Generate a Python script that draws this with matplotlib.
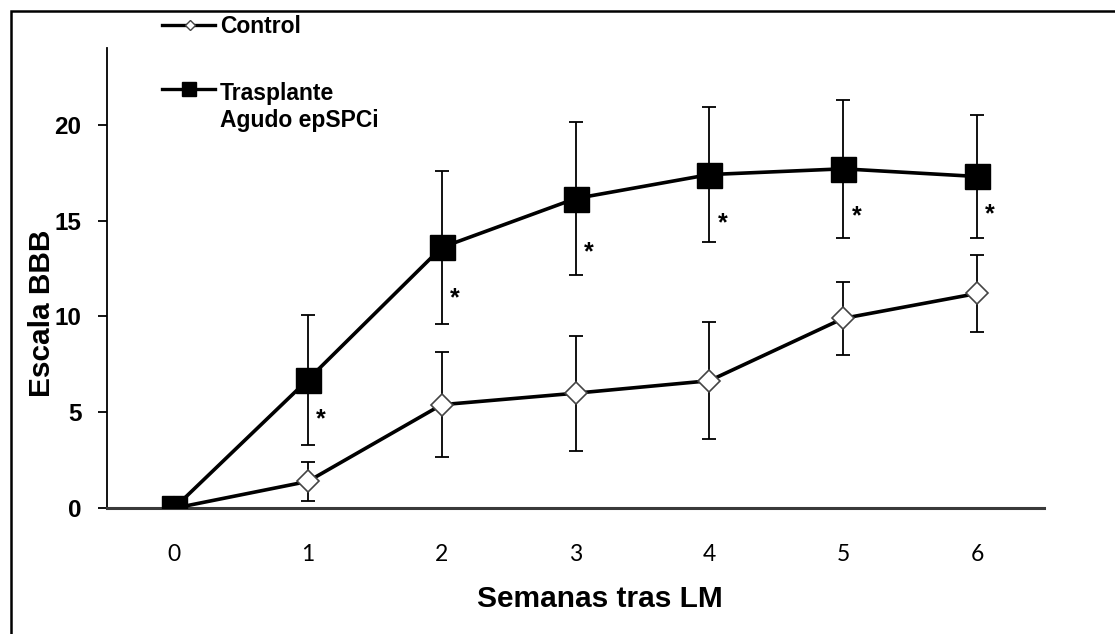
import matplotlib
matplotlib.use('Agg')
import matplotlib.pyplot as plt
from matplotlib.lines import Line2D
from matplotlib.patches import Rectangle

semanas = [0, 1, 2, 3, 4, 5, 6]
control = [0.0, 1.4, 5.4, 6.0, 6.65, 9.9, 11.2]
control_err = [0.0, 1.0, 2.75, 3.0, 3.05, 1.9, 2.0]
trasplante = [0.0, 6.7, 13.6, 16.15, 17.4, 17.7, 17.3]
trasplante_err = [0.0, 3.4, 4.0, 4.0, 3.5, 3.6, 3.2]
estrella_sem = [1, 2, 3, 4, 5, 6]
estrella_y = [5.0, 11.3, 13.7, 15.2, 15.6, 15.7]
yticks = [0, 5, 10, 15, 20]

fig = plt.figure(figsize=(11.15, 6.34), dpi=100)
ax = fig.add_axes([0.096, 0.1983, 0.8403, 0.726])

# error bars behind markers
ax.errorbar(semanas, control, yerr=control_err, fmt='none', ecolor='black',
            elinewidth=1.3, capsize=4.7, capthick=1.3, zorder=2)
ax.errorbar(semanas, trasplante, yerr=trasplante_err, fmt='none', ecolor='black',
            elinewidth=1.3, capsize=4.7, capthick=1.3, zorder=2)
ax.plot(semanas, control, color='black', lw=2.6, marker='D', markersize=11.5,
        markerfacecolor='white', markeredgecolor='#444444', markeredgewidth=1.2, zorder=3)
ax.plot(semanas, trasplante, color='black', lw=2.6, marker='s', markersize=18,
        markerfacecolor='black', markeredgecolor='black', zorder=4)

for s, yv in zip(estrella_sem, estrella_y):
    ax.annotate('*', xy=(s, yv), xytext=(9.5, -10), textcoords='offset points',
                ha='center', va='baseline', fontsize=18, fontweight='bold',
                family='Liberation Sans')

ax.set_xlim(-0.5, 6.5)
ax.set_ylim(0, 24)
ax.set_yticks(yticks)
ax.set_xticks(semanas)
for side in ['top', 'right']:
    ax.spines[side].set_visible(False)
ax.spines['left'].set_linewidth(1.3)
ax.spines['bottom'].set_linewidth(2.2)
ax.spines['bottom'].set_color('#3a3a3a')
ax.tick_params(axis='y', direction='out', length=6.5, width=1.3, pad=12)
ax.tick_params(axis='x', length=0, pad=26)
for lab in ax.get_yticklabels():
    lab.set_fontfamily('Liberation Sans')
    lab.set_fontweight('bold')
    lab.set_fontsize(17.5)
for lab in ax.get_xticklabels():
    lab.set_fontfamily('Lato')
    lab.set_fontsize(16.5)
    lab.set_color('black')

fig.text(600 / 1115, 1 - 607 / 634, 'Semanas tras LM', ha='center', va='baseline',
         fontsize=21.5, fontweight='bold', family='Liberation Sans')
fig.text(50 / 1115, 1 - 313 / 634, 'Escala BBB', ha='center', va='baseline',
         rotation=90, rotation_mode='anchor', fontsize=21.5, fontweight='bold',
         family='Liberation Sans')

# legend drawn by hand
fig.add_artist(Line2D([162 / 1115, 215 / 1115], [1 - 25 / 634, 1 - 25 / 634], color='black',
                      lw=2.4))
fig.add_artist(Line2D([190 / 1115], [1 - 25 / 634], marker='D', markersize=5.5,
                      markerfacecolor='white', markeredgecolor='#444444', markeredgewidth=1))
fig.text(220 / 1115, 1 - 33 / 634, 'Control', ha='left', va='baseline', fontsize=16.5,
         fontweight='bold', family='Liberation Sans')
fig.add_artist(Line2D([162 / 1115, 215 / 1115], [1 - 89 / 634, 1 - 89 / 634], color='black',
                      lw=2.4))
fig.add_artist(Line2D([189 / 1115], [1 - 89 / 634], marker='s', markersize=10,
                      color='black'))
fig.text(220 / 1115, 1 - 127 / 634, 'Trasplante\nAgudo epSPCi', ha='left', va='baseline',
         fontsize=16.5, fontweight='bold', family='Liberation Sans', linespacing=1.2)

# outer frame
fig.add_artist(Rectangle((11 / 1115, -0.1), 1.2, 1.1 - 11 / 634, fill=False,
                         lw=1.8, edgecolor='black', transform=fig.transFigure))

fig.savefig('out.png', dpi=100)
